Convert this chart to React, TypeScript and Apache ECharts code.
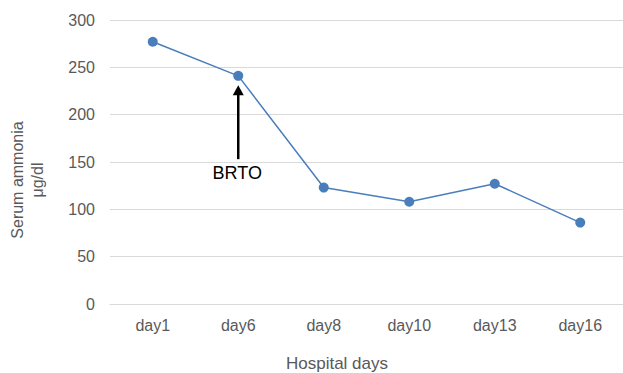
import React, { useEffect, useRef } from "react";
import * as echarts from "echarts";

const categories = ["day1", "day6", "day8", "day10", "day13", "day16"];
const ammonia = [277, 241, 123, 108, 127, 86];
const yTicks = { min: 0, max: 300, interval: 50 };
const annotation = { category: "day6", label: "BRTO", fromValue: 153, toValue: 231 };
const yAxisTitle = ["Serum ammonia", "μg/dl"];
const xAxisTitle = "Hospital days";

const FONT = "Liberation Sans, Arial, sans-serif";

export default function App() {
  const ref = useRef<HTMLDivElement>(null);
  useEffect(() => {
    if (!ref.current) return;
    const chart = echarts.init(ref.current, null, { renderer: "svg" });
    chart.setOption({
      animation: false,
      grid: { left: 110, width: 517, top: 20, bottom: 69, containLabel: false },
      xAxis: {
        type: "category",
        data: categories,
        boundaryGap: true,
        axisLine: { show: true, lineStyle: { color: "#d9d9d9", width: 1 } },
        axisTick: { show: false },
        axisLabel: { color: "#595959", fontSize: 16, fontFamily: FONT, margin: 13 },
      },
      yAxis: {
        type: "value",
        min: yTicks.min,
        max: yTicks.max,
        interval: yTicks.interval,
        axisLine: { show: false },
        axisTick: { show: false },
        splitLine: { lineStyle: { color: "#d9d9d9", width: 1 } },
        axisLabel: { color: "#595959", fontSize: 16, fontFamily: FONT, margin: 15 },
      },
      series: [
        {
          type: "line",
          data: ammonia,
          symbol: "circle",
          symbolSize: 10,
          itemStyle: { color: "#4a7ebb" },
          lineStyle: { color: "#4a7ebb", width: 1.5 },
        },
      ],
    });
    const tip = chart.convertToPixel({ xAxisIndex: 0, yAxisIndex: 0 }, [annotation.category, annotation.toValue]) as number[];
    const start = chart.convertToPixel({ xAxisIndex: 0, yAxisIndex: 0 }, [annotation.category, annotation.fromValue]) as number[];
    const headH = 10;
    const headW = 11;
    chart.setOption({
      graphic: [
        {
          type: "line",
          shape: { x1: start[0], y1: start[1], x2: tip[0], y2: tip[1] + headH - 1 },
          style: { stroke: "#000", lineWidth: 2.5 },
          z: 100,
        },
        {
          type: "polygon",
          shape: {
            points: [
              [tip[0], tip[1]],
              [tip[0] - headW / 2, tip[1] + headH],
              [tip[0] + headW / 2, tip[1] + headH],
            ],
          },
          style: { fill: "#000" },
          z: 100,
        },
        {
          type: "text",
          x: start[0] - 1,
          y: start[1] + 14,
          style: {
            text: annotation.label,
            fill: "#000",
            fontSize: 18,
            fontFamily: FONT,
            textAlign: "center",
            textVerticalAlign: "middle",
          },
          z: 100,
        },
        {
          type: "text",
          x: 27,
          y: 180,
          rotation: Math.PI / 2,
          style: {
            text: yAxisTitle.join("\n"),
            fill: "#595959",
            fontSize: 16,
            lineHeight: 20,
            fontFamily: FONT,
            textAlign: "center",
            textVerticalAlign: "middle",
          },
        },
        {
          type: "text",
          x: 337,
          y: 363,
          style: {
            text: xAxisTitle,
            fill: "#595959",
            fontSize: 17,
            fontFamily: FONT,
            textAlign: "center",
            textVerticalAlign: "middle",
          },
        },
      ],
    });
    return () => chart.dispose();
  }, []);
  return (
    <div
      ref={ref}
      style={{ position: "fixed", left: 0, top: 0, width: 623, height: 373, background: "#fff" }}
    />
  );
}
